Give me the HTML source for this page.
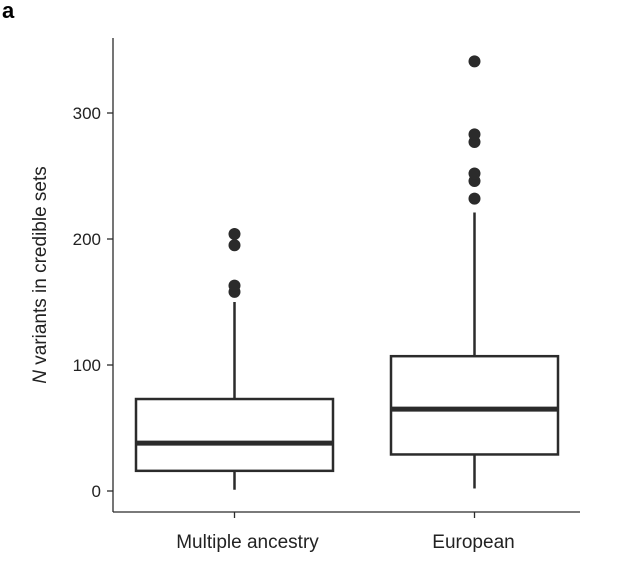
<!DOCTYPE html>
<html><head><meta charset="utf-8"><style>body{margin:0;background:#fff}svg{display:block;font-family:"Liberation Sans",sans-serif}</style></head>
<body>
<svg width="626" height="567" viewBox="0 0 626 567">
<text x="2" y="18" font-size="22" font-weight="bold" fill="#000">a</text>
<g id="plot"></g>
</svg>
<script>
const categories = ["Multiple ancestry", "European"];
const whiskerLow = [1, 2];
const q1 = [16, 29];
const median = [38, 65];
const q3 = [73, 107];
const whiskerHigh = [150, 221];
const outliers = [[158, 163, 195, 204], [232, 246, 252, 277, 283, 341]];
const yTicks = [0, 100, 200, 300];

const NS = "http://www.w3.org/2000/svg";
const g = document.getElementById('plot');
const y = v => 491 - v * 1.26;
const centers = [234.5, 474.5];
const halfW = [98.5, 83.5];
const labelOffset = [13, -1];
const col = "#2b2b2b";
function mk(tag, attrs, parent) {
  const e = document.createElementNS(NS, tag);
  for (const k in attrs) e.setAttribute(k, attrs[k]);
  (parent || g).appendChild(e);
  return e;
}
let e = mk('line', {x1:113, y1:38, x2:113, y2:512, stroke:col, 'stroke-width':1.3});


e = mk('line', {x1:113, y1:512, x2:580, y2:512, stroke:col, 'stroke-width':1.3});


yTicks.forEach(t => {
  let l = mk('line', {x1:107, x2:113, y1:y(t), y2:y(t), stroke:col, 'stroke-width':1.3});
  
  
  let tx = mk('text', {x:101, y:y(t)+6, 'text-anchor':'end', 'font-size':17, fill:'#222'});
  tx.textContent = t;
  
  
});
let yt = mk('text', {transform:'translate(46,275) rotate(-90)', 'text-anchor':'middle', 'font-size':19, fill:'#222'});
yt.innerHTML = '<tspan font-style="italic">N</tspan> variants in credible sets';


categories.forEach((c, i) => {
  const cx = centers[i], hw = halfW[i];
  let l = mk('line', {x1:cx, x2:cx, y1:y(whiskerLow[i]), y2:y(q1[i]), stroke:col, 'stroke-width':2.5});
  
  
  l = mk('line', {x1:cx, x2:cx, y1:y(q3[i]), y2:y(whiskerHigh[i]), stroke:col, 'stroke-width':2.5});
  
  
  let r = mk('rect', {x:cx-hw, y:y(q3[i]), width:2*hw, height:y(q1[i])-y(q3[i]), fill:'#fff', stroke:col, 'stroke-width':2.5});
  
  
  l = mk('line', {x1:cx-hw, x2:cx+hw, y1:y(median[i]), y2:y(median[i]), stroke:col, 'stroke-width':5});
  
  
  outliers[i].forEach(v => {
    let d = mk('circle', {cx:cx, cy:y(v), r:6, fill:col});
    
    
  });
  let tk = mk('line', {x1:cx, x2:cx, y1:512, y2:518, stroke:col, 'stroke-width':1.3});
  
  
  let tx = mk('text', {x:cx+labelOffset[i], y:548, 'text-anchor':'middle', 'font-size':19, fill:'#222'});
  tx.textContent = c;
  
  
});
</script>
</body></html>
